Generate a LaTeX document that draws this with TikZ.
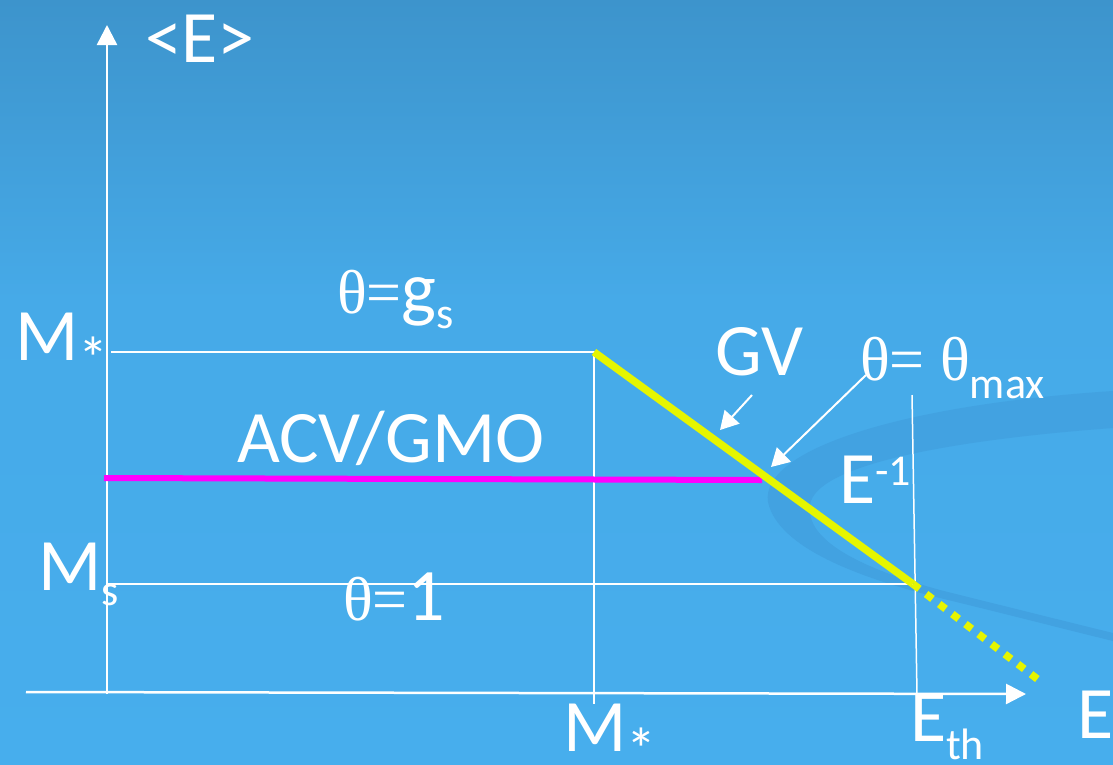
\documentclass[tikz,border=0pt]{standalone}
\usepackage{fontspec}
\setmainfont{Carlito}
\newfontfamily\grk{Liberation Serif}
\usepackage{tikz}
\usetikzlibrary{arrows.meta}
\definecolor{bgtop}{RGB}{61,148,204}
\definecolor{bgmid}{RGB}{70,170,232}
\definecolor{bgbot}{RGB}{71,174,237}
\definecolor{swoosh}{RGB}{66,162,225}
\definecolor{acvcol}{RGB}{255,0,255}
\definecolor{gvcol}{RGB}{230,245,0}
\newcommand\bigtxt{\fontsize{74}{80}\selectfont}
\newcommand\subtxt{\fontsize{44}{48}\selectfont}
\newcommand\thtxt{\grk\fontsize{62}{66}\selectfont}
\newcommand\lowstar{\raisebox{-19pt}{\fontsize{60}{60}\selectfont *}}

\begin{document}
\begin{tikzpicture}
[
  x=1pt, y=-1pt,
  every node/.style={inner sep=0pt, outer sep=0pt, text=white, font=\bigtxt, anchor=base west},
  axis/.style={draw=white, line width=2.5pt, -{Triangle[length=20pt,width=20pt]}},
  guide/.style={draw=white, line width=1.5pt},
  callout/.style={draw=white, line width=2pt, -{Triangle[length=18pt,width=20pt]}},
  acvline/.style={draw=acvcol, line width=6pt},
  gvline/.style={draw=gvcol, line width=7.5pt}
]
\useasboundingbox (0,0) rectangle (1113,764);

% background
\shade[top color=bgtop, bottom color=bgmid] (0,0) rectangle (1113,300);
\shade[top color=bgmid, bottom color=bgbot] (0,300) rectangle (1113,764);
\fill[swoosh] (1113,391) .. controls (900,405) and (760,450) .. (768,502)
  .. controls (778,548) and (860,578) .. (940,598)
  .. controls (1010,615) and (1060,628) .. (1113,641) -- (1113,633)
  .. controls (1060,620) and (1000,605) .. (940,590)
  .. controls (860,568) and (805,540) .. (810,505)
  .. controls (815,465) and (950,440) .. (1113,428) -- cycle;

% points
\coordinate (yfoot) at (107,694);
\coordinate (ytip) at (107,25);
\coordinate (xfoot) at (26,692);
\coordinate (xtip) at (1026,694);
\coordinate (mstop) at (111,352);
\coordinate (peak) at (594,352);
\coordinate (mfoot) at (594,704);
\coordinate (msleft) at (108,584);
\coordinate (thr) at (913,584);
\coordinate (ethtop) at (912,395);
\coordinate (ethfoot) at (917,694);
\coordinate (acvleft) at (104,478);
\coordinate (acvright) at (762,480);
\coordinate (gvend) at (1040,681);
\coordinate (gvfrom) at (752,395);
\coordinate (gvto) at (720,430);
\coordinate (thfrom) at (866,375);
\coordinate (thto) at (771,467);

% axes and guides
\draw[axis] (yfoot) -- (ytip);
\draw[axis] (xfoot) -- (xtip);
\draw[guide] (mstop) -- (peak) -- (mfoot);
\draw[guide] (msleft) -- (thr);
\draw[guide] (ethtop) -- (ethfoot);

% curves
\draw[acvline] (acvleft) -- (acvright);
\draw[gvline] (peak) -- (thr);
\draw[gvline, dash pattern=on 8pt off 8.5pt] (thr) -- (gvend);

% labels
\node (ylab) at (145,62) {<E>};
\node (mstarl) at (15,360) {M\lowstar};
\node (msl) at (38,590) {M\raisebox{-15pt}{\subtxt s}};
\node (gslab) at (337,313) {{\thtxt θ=}g\raisebox{-15pt}{\subtxt s}};
\node (acv) at (237,462) {ACV/GMO};
\node (onelab) at (343,620) {{\thtxt θ=}1};
\node (gv) at (715,375) {GV};
\node (thmax) at (860,380) {{\thtxt θ= θ}\raisebox{-18pt}{\subtxt max}};
\node (einv) at (839,503) {E\raisebox{18pt}{\subtxt -1}};
\node (mstarb) at (563,751) {M\lowstar};
\node (eth) at (910,741) {E\raisebox{-18pt}{\subtxt th}};
\node (elab) at (1077,738) {E};

% callouts
\draw[callout] (gvfrom) -- (gvto);
\draw[callout] (thfrom) -- (thto);
\end{tikzpicture}
\end{document}
